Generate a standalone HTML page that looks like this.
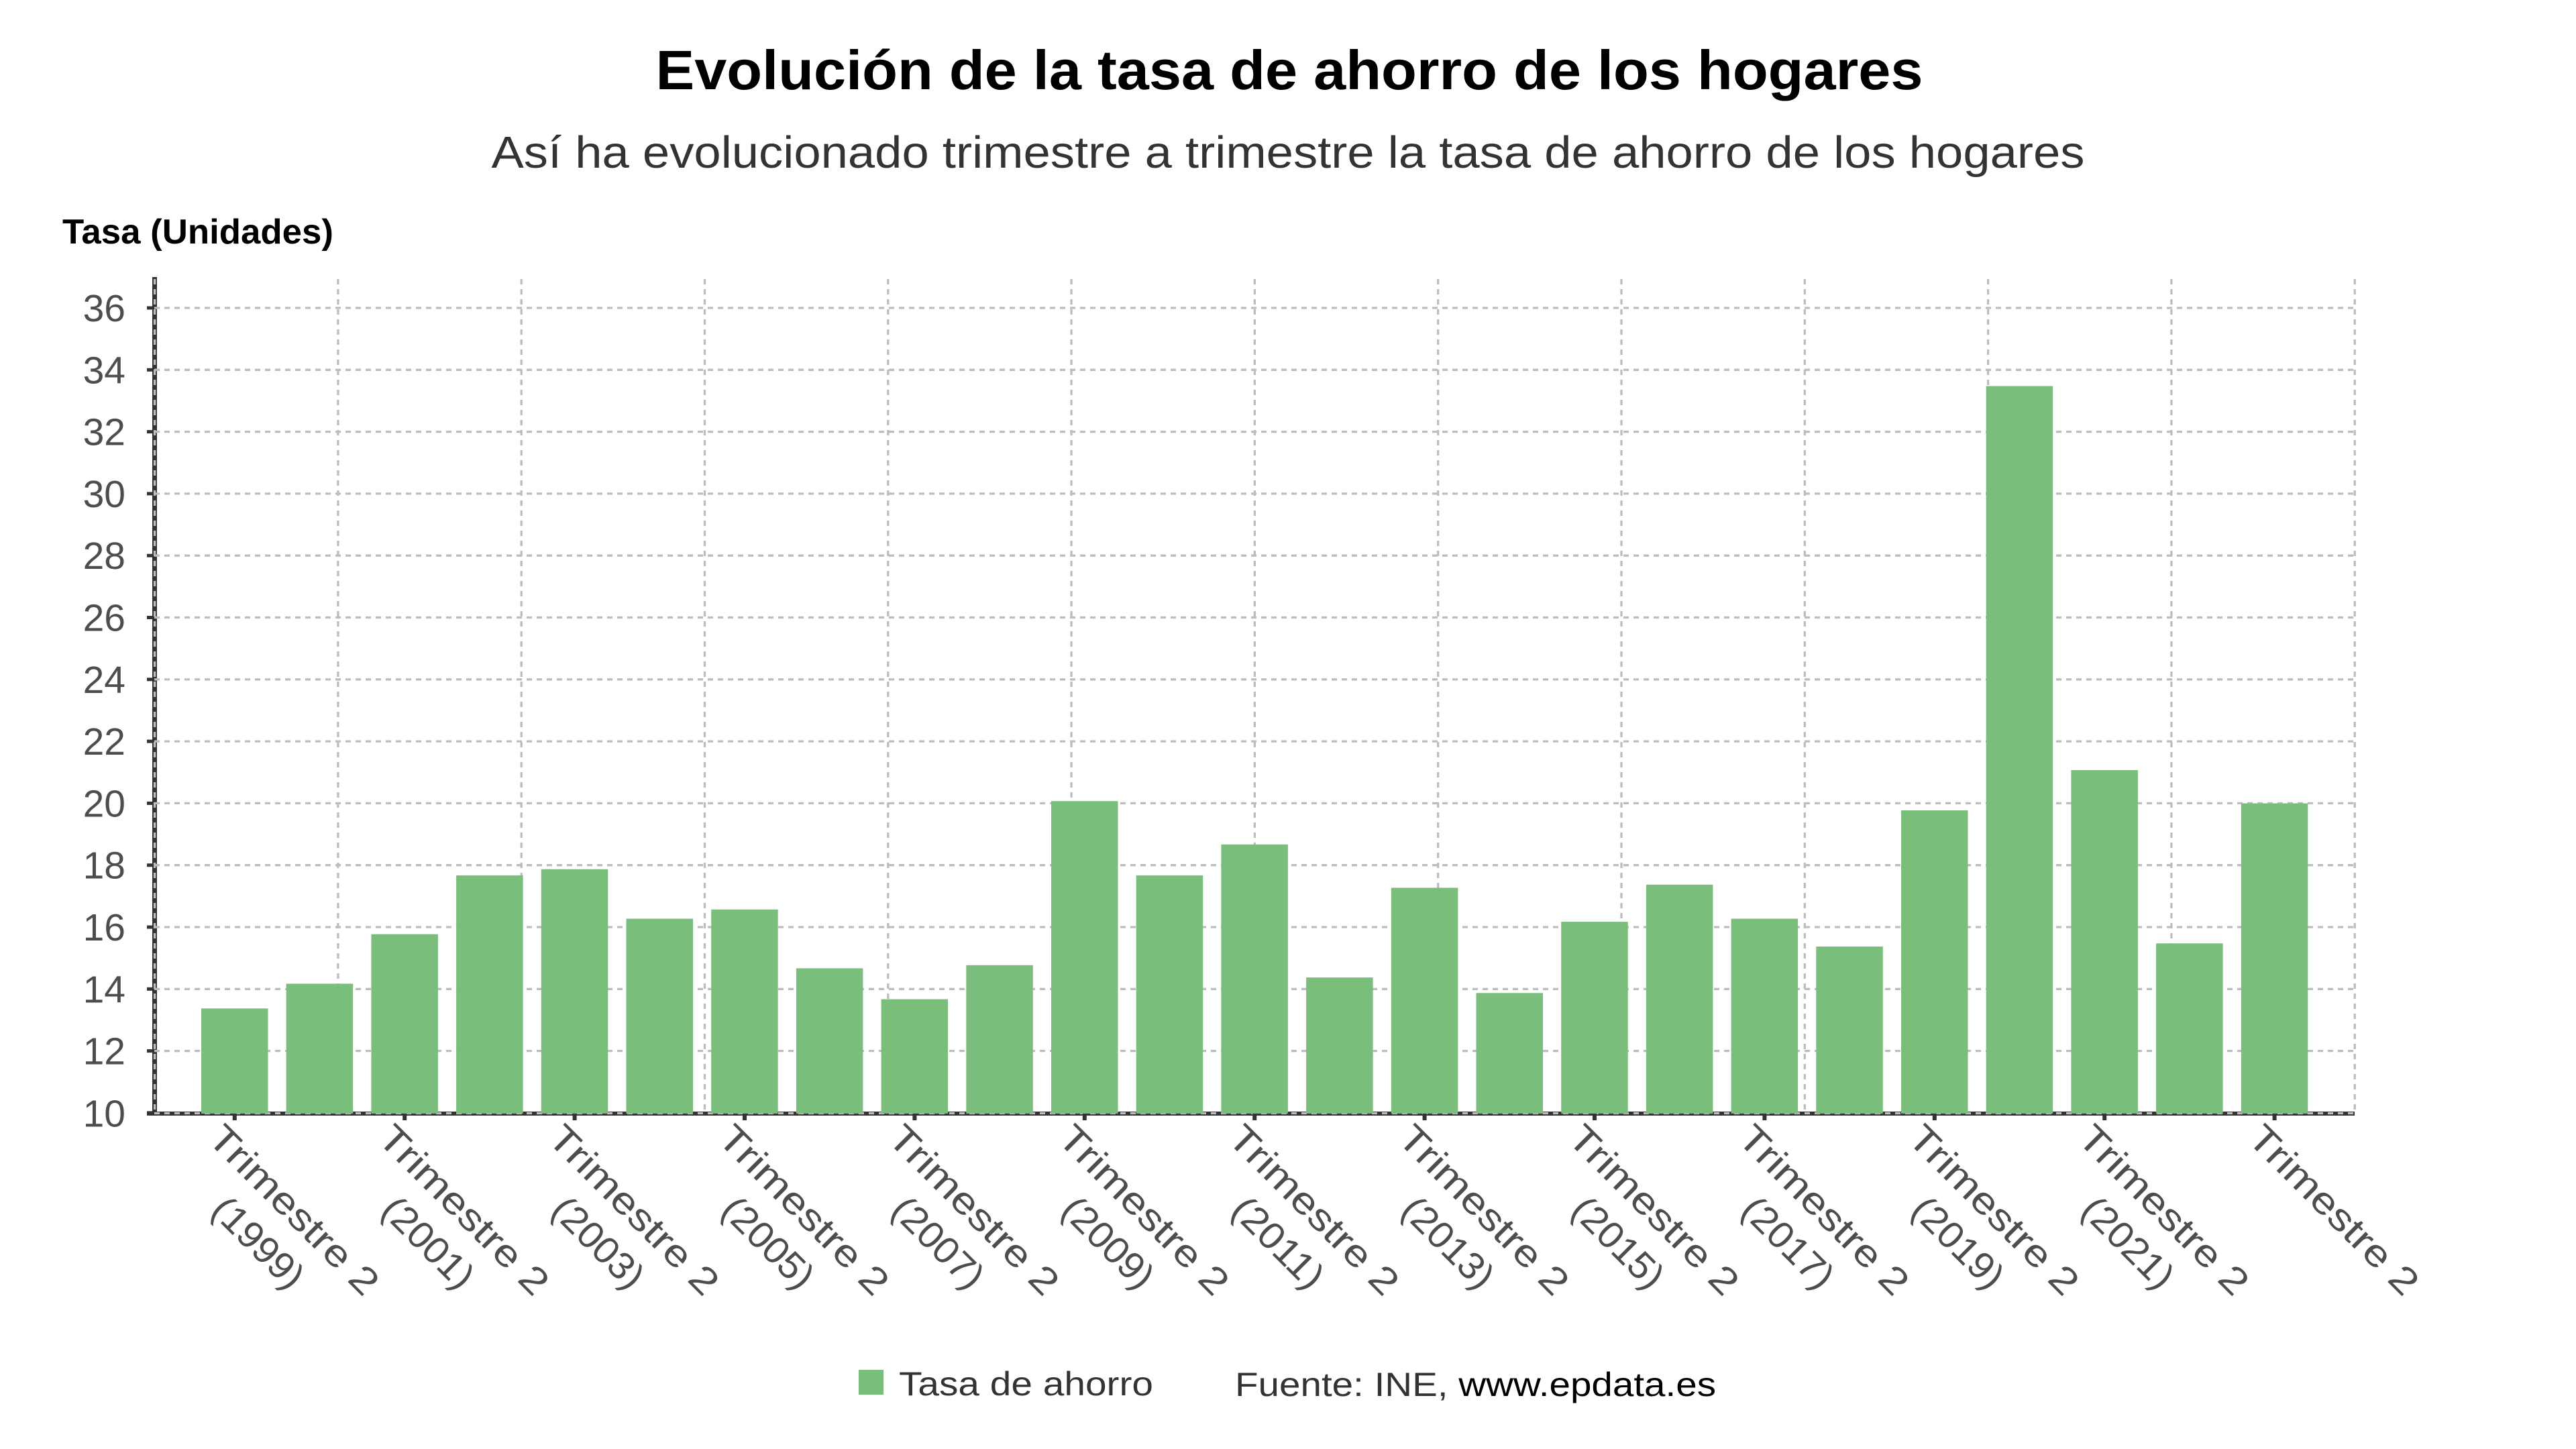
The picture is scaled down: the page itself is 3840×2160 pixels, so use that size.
<!DOCTYPE html>
<html>
<head>
<meta charset="utf-8">
<style>
html,body{margin:0;padding:0;background:#fff;}
svg{display:block;}
text{font-family:"Liberation Sans", "DejaVu Sans", sans-serif;}
</style>
</head>
<body>
<svg width="3840" height="2160" viewBox="0 0 3840 2160" xmlns="http://www.w3.org/2000/svg">
<rect x="0" y="0" width="3840" height="2160" fill="#fff"/>

<!-- Title -->
<text x="1922" y="133" font-size="83" font-weight="bold" fill="#000" text-anchor="middle" textLength="1889" lengthAdjust="spacingAndGlyphs">Evolución de la tasa de ahorro de los hogares</text>
<text x="1920" y="250" font-size="67" fill="#333" text-anchor="middle" textLength="2375" lengthAdjust="spacingAndGlyphs">Así ha evolucionado trimestre a trimestre la tasa de ahorro de los hogares</text>

<!-- Axis title -->
<text x="93" y="363" font-size="52" font-weight="bold" fill="#000" textLength="404" lengthAdjust="spacingAndGlyphs">Tasa (Unidades)</text>

<!-- Axis lines -->
<line x1="230.5" y1="413" x2="230.5" y2="1663" stroke="#333" stroke-width="7"/>
<line x1="219" y1="1660" x2="3510" y2="1660" stroke="#333" stroke-width="6"/>

<!-- Y ticks -->
<g fill="#333">
<rect x="219" y="456.5" width="11" height="5"/>
<rect x="219" y="548.8" width="11" height="5"/>
<rect x="219" y="641.1" width="11" height="5"/>
<rect x="219" y="733.4" width="11" height="5"/>
<rect x="219" y="825.7" width="11" height="5"/>
<rect x="219" y="918" width="11" height="5"/>
<rect x="219" y="1010.3" width="11" height="5"/>
<rect x="219" y="1102.6" width="11" height="5"/>
<rect x="219" y="1194.9" width="11" height="5"/>
<rect x="219" y="1287.2" width="11" height="5"/>
<rect x="219" y="1379.5" width="11" height="5"/>
<rect x="219" y="1471.8" width="11" height="5"/>
<rect x="219" y="1564.1" width="11" height="5"/>
<rect x="219" y="1656.4" width="11" height="5"/>
</g>

<!-- Horizontal gridlines -->
<g stroke="#bdbdbd" stroke-width="3.3" stroke-dasharray="8,7">
<line x1="230" y1="459" x2="3510" y2="459"/>
<line x1="230" y1="551.3" x2="3510" y2="551.3"/>
<line x1="230" y1="643.6" x2="3510" y2="643.6"/>
<line x1="230" y1="735.9" x2="3510" y2="735.9"/>
<line x1="230" y1="828.2" x2="3510" y2="828.2"/>
<line x1="230" y1="920.5" x2="3510" y2="920.5"/>
<line x1="230" y1="1012.8" x2="3510" y2="1012.8"/>
<line x1="230" y1="1105.1" x2="3510" y2="1105.1"/>
<line x1="230" y1="1197.4" x2="3510" y2="1197.4"/>
<line x1="230" y1="1289.7" x2="3510" y2="1289.7"/>
<line x1="230" y1="1382" x2="3510" y2="1382"/>
<line x1="230" y1="1474.3" x2="3510" y2="1474.3"/>
<line x1="230" y1="1566.6" x2="3510" y2="1566.6"/>
<line x1="230" y1="1659.5" x2="3510" y2="1659.5"/>
</g>

<!-- Vertical gridlines -->
<g stroke="#bdbdbd" stroke-width="3.3" stroke-dasharray="8,7">
<line x1="230.6" y1="416" x2="230.6" y2="1660"/>
<line x1="503.9" y1="416" x2="503.9" y2="1660"/>
<line x1="777.2" y1="416" x2="777.2" y2="1660"/>
<line x1="1050.5" y1="416" x2="1050.5" y2="1660"/>
<line x1="1323.8" y1="416" x2="1323.8" y2="1660"/>
<line x1="1597.1" y1="416" x2="1597.1" y2="1660"/>
<line x1="1870.4" y1="416" x2="1870.4" y2="1660"/>
<line x1="2143.7" y1="416" x2="2143.7" y2="1660"/>
<line x1="2417" y1="416" x2="2417" y2="1660"/>
<line x1="2690.3" y1="416" x2="2690.3" y2="1660"/>
<line x1="2963.6" y1="416" x2="2963.6" y2="1660"/>
<line x1="3236.9" y1="416" x2="3236.9" y2="1660"/>
<line x1="3510.2" y1="416" x2="3510.2" y2="1660"/>
</g>

<!-- Bars -->
<g fill="#79bf7b">
<rect x="300" y="1503.3" width="99.5" height="156.7"/>
<rect x="426.7" y="1466.4" width="99.5" height="193.6"/>
<rect x="553.4" y="1392.6" width="99.5" height="267.4"/>
<rect x="680.1" y="1304.9" width="99.5" height="355.1"/>
<rect x="806.8" y="1295.7" width="99.5" height="364.3"/>
<rect x="933.5" y="1369.5" width="99.5" height="290.5"/>
<rect x="1060.2" y="1355.7" width="99.5" height="304.3"/>
<rect x="1186.9" y="1443.4" width="99.5" height="216.6"/>
<rect x="1313.6" y="1489.5" width="99.5" height="170.5"/>
<rect x="1440.3" y="1438.8" width="99.5" height="221.2"/>
<rect x="1567" y="1194.2" width="99.5" height="465.8"/>
<rect x="1693.7" y="1304.9" width="99.5" height="355.1"/>
<rect x="1820.4" y="1258.8" width="99.5" height="401.2"/>
<rect x="1947.1" y="1457.1" width="99.5" height="202.9"/>
<rect x="2073.8" y="1323.4" width="99.5" height="336.6"/>
<rect x="2200.5" y="1480.3" width="99.5" height="179.7"/>
<rect x="2327.2" y="1374.1" width="99.5" height="285.9"/>
<rect x="2453.9" y="1318.8" width="99.5" height="341.2"/>
<rect x="2580.6" y="1369.5" width="99.5" height="290.5"/>
<rect x="2707.3" y="1411" width="99.5" height="249"/>
<rect x="2834" y="1208" width="99.5" height="452"/>
<rect x="2960.7" y="575.5" width="99.5" height="1084.5"/>
<rect x="3087.4" y="1148" width="99.5" height="512"/>
<rect x="3214.1" y="1406.3" width="99.5" height="253.7"/>
<rect x="3340.8" y="1197.5" width="99.5" height="462.5"/>
</g>

<!-- X ticks -->
<g fill="#333">
<rect x="346.8" y="1660" width="6" height="10"/>
<rect x="600.2" y="1660" width="6" height="10"/>
<rect x="853.6" y="1660" width="6" height="10"/>
<rect x="1107" y="1660" width="6" height="10"/>
<rect x="1360.4" y="1660" width="6" height="10"/>
<rect x="1613.8" y="1660" width="6" height="10"/>
<rect x="1867.2" y="1660" width="6" height="10"/>
<rect x="2120.6" y="1660" width="6" height="10"/>
<rect x="2374" y="1660" width="6" height="10"/>
<rect x="2627.4" y="1660" width="6" height="10"/>
<rect x="2880.8" y="1660" width="6" height="10"/>
<rect x="3134.2" y="1660" width="6" height="10"/>
<rect x="3387.6" y="1660" width="6" height="10"/>
</g>

<!-- Y labels -->
<g font-size="57" fill="#4d4d4d" text-anchor="end">
<text x="187" y="479">36</text>
<text x="187" y="571.3">34</text>
<text x="187" y="663.6">32</text>
<text x="187" y="755.9">30</text>
<text x="187" y="848.2">28</text>
<text x="187" y="940.5">26</text>
<text x="187" y="1032.8">24</text>
<text x="187" y="1125.1">22</text>
<text x="187" y="1217.4">20</text>
<text x="187" y="1309.7">18</text>
<text x="187" y="1402">16</text>
<text x="187" y="1494.3">14</text>
<text x="187" y="1586.6">12</text>
<text x="187" y="1679.5">10</text>
</g>

<!-- X labels -->
<g font-size="56" fill="#4d4d4d">
<g transform="translate(349.8,1663) rotate(45)"><text x="-4" y="56" textLength="332" lengthAdjust="spacingAndGlyphs">Trimestre 2</text><text x="159" y="128" text-anchor="middle" textLength="168" lengthAdjust="spacingAndGlyphs">(1999)</text></g>
<g transform="translate(603.2,1663) rotate(45)"><text x="-4" y="56" textLength="332" lengthAdjust="spacingAndGlyphs">Trimestre 2</text><text x="159" y="128" text-anchor="middle" textLength="168" lengthAdjust="spacingAndGlyphs">(2001)</text></g>
<g transform="translate(856.6,1663) rotate(45)"><text x="-4" y="56" textLength="332" lengthAdjust="spacingAndGlyphs">Trimestre 2</text><text x="159" y="128" text-anchor="middle" textLength="168" lengthAdjust="spacingAndGlyphs">(2003)</text></g>
<g transform="translate(1110,1663) rotate(45)"><text x="-4" y="56" textLength="332" lengthAdjust="spacingAndGlyphs">Trimestre 2</text><text x="159" y="128" text-anchor="middle" textLength="168" lengthAdjust="spacingAndGlyphs">(2005)</text></g>
<g transform="translate(1363.4,1663) rotate(45)"><text x="-4" y="56" textLength="332" lengthAdjust="spacingAndGlyphs">Trimestre 2</text><text x="159" y="128" text-anchor="middle" textLength="168" lengthAdjust="spacingAndGlyphs">(2007)</text></g>
<g transform="translate(1616.8,1663) rotate(45)"><text x="-4" y="56" textLength="332" lengthAdjust="spacingAndGlyphs">Trimestre 2</text><text x="159" y="128" text-anchor="middle" textLength="168" lengthAdjust="spacingAndGlyphs">(2009)</text></g>
<g transform="translate(1870.2,1663) rotate(45)"><text x="-4" y="56" textLength="332" lengthAdjust="spacingAndGlyphs">Trimestre 2</text><text x="159" y="128" text-anchor="middle" textLength="168" lengthAdjust="spacingAndGlyphs">(2011)</text></g>
<g transform="translate(2123.6,1663) rotate(45)"><text x="-4" y="56" textLength="332" lengthAdjust="spacingAndGlyphs">Trimestre 2</text><text x="159" y="128" text-anchor="middle" textLength="168" lengthAdjust="spacingAndGlyphs">(2013)</text></g>
<g transform="translate(2377,1663) rotate(45)"><text x="-4" y="56" textLength="332" lengthAdjust="spacingAndGlyphs">Trimestre 2</text><text x="159" y="128" text-anchor="middle" textLength="168" lengthAdjust="spacingAndGlyphs">(2015)</text></g>
<g transform="translate(2630.4,1663) rotate(45)"><text x="-4" y="56" textLength="332" lengthAdjust="spacingAndGlyphs">Trimestre 2</text><text x="159" y="128" text-anchor="middle" textLength="168" lengthAdjust="spacingAndGlyphs">(2017)</text></g>
<g transform="translate(2883.8,1663) rotate(45)"><text x="-4" y="56" textLength="332" lengthAdjust="spacingAndGlyphs">Trimestre 2</text><text x="159" y="128" text-anchor="middle" textLength="168" lengthAdjust="spacingAndGlyphs">(2019)</text></g>
<g transform="translate(3137.2,1663) rotate(45)"><text x="-4" y="56" textLength="332" lengthAdjust="spacingAndGlyphs">Trimestre 2</text><text x="159" y="128" text-anchor="middle" textLength="168" lengthAdjust="spacingAndGlyphs">(2021)</text></g>
<g transform="translate(3390.6,1663) rotate(45)"><text x="-4" y="56" textLength="332" lengthAdjust="spacingAndGlyphs">Trimestre 2</text></g>
</g>

<!-- Legend -->
<rect x="1280" y="2042" width="37" height="37" fill="#79bf7b"/>
<text x="1340" y="2080" font-size="50" fill="#333" textLength="379" lengthAdjust="spacingAndGlyphs">Tasa de ahorro</text>
<text x="1841" y="2081" font-size="50" textLength="717" lengthAdjust="spacingAndGlyphs"><tspan fill="#333">Fuente: INE, </tspan><tspan fill="#000">www.epdata.es</tspan></text>
</svg>
</body>
</html>
